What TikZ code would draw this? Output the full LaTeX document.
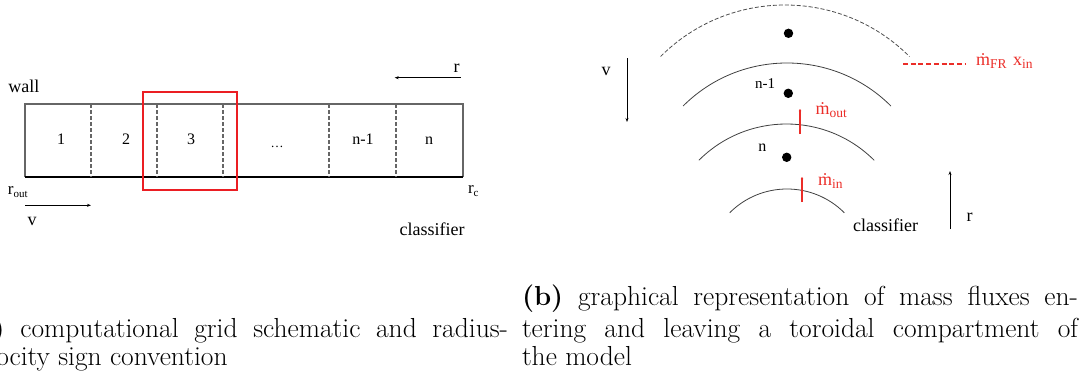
\documentclass[tikz,border=0pt]{standalone}
\usepackage{fontspec}
\newfontfamily\tms{Liberation Serif}
\usetikzlibrary{arrows.meta}
\definecolor{mred}{RGB}{235,45,40}
\definecolor{boxred}{RGB}{235,30,35}
\newcommand{\subtx}[1]{\raisebox{-3.5pt}{\fontsize{13.5}{13.5}\selectfont #1}}
\newcommand{\subsm}[1]{\raisebox{-3pt}{\fontsize{11}{11}\selectfont #1}}
\begin{document}
\begin{tikzpicture}[x=1pt,y=-1pt,
  every node/.style={inner sep=0pt, outer sep=0pt},
  lbl/.style={font=\tms\fontsize{18}{20}\selectfont, anchor=base west},
  cellno/.style={font=\tms\fontsize{16}{18}\selectfont, anchor=base},
  smlbl/.style={font=\tms\fontsize{15}{17}\selectfont, anchor=base west},
  redlbl/.style={font=\tms\fontsize{18}{20}\selectfont, text=mred, anchor=base west},
  captext/.style={font=\fontsize{27.5}{30}\selectfont, anchor=base west},
  gridline/.style={line width=1.2pt, draw=black!60},
  sep/.style={line width=1.1pt, draw=black!60, dash pattern=on 4pt off 2pt},
  arr/.style={line width=0.9pt, -{Stealth[length=4pt,width=3pt]}},
  shell/.style={line width=0.8pt, draw=black!75},
  dshell/.style={line width=0.8pt, draw=black!70, dash pattern=on 4pt off 2pt},
  fluxtick/.style={line width=1.2pt, draw=mred, -{Stealth[length=2pt,width=2.5pt]}},
  dotnode/.style={circle, fill=black, minimum size=9.4pt}
]
\useasboundingbox (0,0) rectangle (1083,380);
\clip (0,0) rectangle (1083,380);

% ---------- (a) grid ----------
\coordinate (tl) at (25,104);
\coordinate (tr) at (463,104);
\coordinate (bl) at (25,177);
\coordinate (br) at (463,177);
\draw[gridline] (bl) -- (tl) -- (tr) -- (br);
\draw[line width=1.2pt] (bl) -- (br);
\foreach \x [count=\i] in {91,157,223,329,396}{
  \coordinate (s\i t) at (\x,104);
  \coordinate (s\i b) at (\x,177);
  \draw[sep] (s\i t) -- (s\i b);
}
\node[cellno] (c1) at (61,144) {1};
\node[cellno] (c2) at (126,144) {2};
\node[cellno] (c3) at (191,144) {3};
\node[cellno, font=\tms\fontsize{13}{15}\selectfont] (c4) at (277,147) {\dots};
\node[cellno] (c5) at (363,144) {n-1};
\node[cellno] (c6) at (429,144) {n};

\coordinate (rb1) at (143,92);
\coordinate (rb2) at (237,190);
\draw[draw=boxred, line width=1.2pt] (rb1) rectangle (rb2);

\node[lbl] (wall) at (8.5,92) {wall};
\node[lbl, font=\tms\fontsize{17}{19}\selectfont] (rout) at (8,194) {r\subsm{out}};
\node[lbl, font=\tms\fontsize{17}{19}\selectfont] (rc) at (468,193) {r\subsm{c}};
\node[lbl] (va) at (27.5,225.5) {v};
\node[lbl] (ra) at (453.5,72) {r};
\node[lbl, anchor=base] (cla) at (432,235) {classifier};

\coordinate (va1) at (25,205.3);
\coordinate (va2) at (91,205.3);
\draw[arr] (va1) -- (va2);
\coordinate (ra1) at (460.7,77.7);
\coordinate (ra2) at (394.7,77.7);
\draw[arr] (ra1) -- (ra2);

% ---------- (b) shells ----------
\coordinate (k0) at (785,181);
\coordinate (k1) at (787,210);
\coordinate (k2) at (786.5,248);
\coordinate (k3) at (787,270);
\draw[dshell] ([shift={(k0)}]135:176pt) arc[start angle=135, end angle=45, radius=176pt];
\draw[shell] ([shift={(k1)}]135:147pt) arc[start angle=135, end angle=45, radius=147pt];
\draw[shell] ([shift={(k2)}]135:124pt) arc[start angle=135, end angle=45, radius=124pt];
\draw[shell] ([shift={(k3)}]135:81pt) arc[start angle=135, end angle=45, radius=81pt];

\node[dotnode] (d1) at (788.5,33.3) {};
\node[dotnode] (d2) at (788.3,93.3) {};
\node[dotnode] (d3) at (786.7,157.3) {};

\node[smlbl] (nm1) at (755,88.3) {n-1};
\node[smlbl, font=\tms\fontsize{16}{18}\selectfont] (nn) at (758.3,151.7) {n};

\coordinate (to1) at (800,134);
\coordinate (to2) at (800,109);
\draw[fluxtick] (to1) -- (to2);
\coordinate (ti1) at (802,202);
\coordinate (ti2) at (802,177);
\draw[fluxtick] (ti1) -- (ti2);

\node[redlbl] (mout) at (815.5,114.3) {\.{m}\subtx{out}};
\node[redlbl] (min) at (818,185) {\.{m}\subtx{in}};
\node[redlbl] (mfr) at (976,65) {\.{m}\subtx{FR}\hspace{2pt} x\subtx{in}};
\coordinate (fr1) at (903,64);
\coordinate (fr2) at (965,64);
\draw[draw=mred, line width=1.3pt, dash pattern=on 5pt off 2.7pt] (fr1) -- (fr2);

\coordinate (vb1) at (627,58);
\coordinate (vb2) at (627,122);
\draw[arr] (vb1) -- (vb2);
\node[lbl] (vb) at (601.5,75) {v};
\coordinate (rb1a) at (950,229);
\coordinate (rb2a) at (950,171);
\draw[arr] (rb1a) -- (rb2a);
\node[lbl] (rbl) at (966.5,221.5) {r};
\node[lbl] (clb) at (853,231.5) {classifier};

% ---------- captions ----------
\node[captext] (a1) at (-34.4,337) {\makebox[542.4pt][s]{\textbf{(a)} computational grid schematic and radius-}};
\node[captext] (a2) at (-34.4,365) {velocity sign convention};
\node[captext] (b1) at (522,305) {\makebox[556pt][s]{\textbf{(b)} graphical representation of mass fluxes en-}};
\node[captext] (b2) at (522,337) {\makebox[556pt][s]{tering and leaving a toroidal compartment of}};
\node[captext] (b3) at (522,365) {the model};
\end{tikzpicture}
\end{document}
